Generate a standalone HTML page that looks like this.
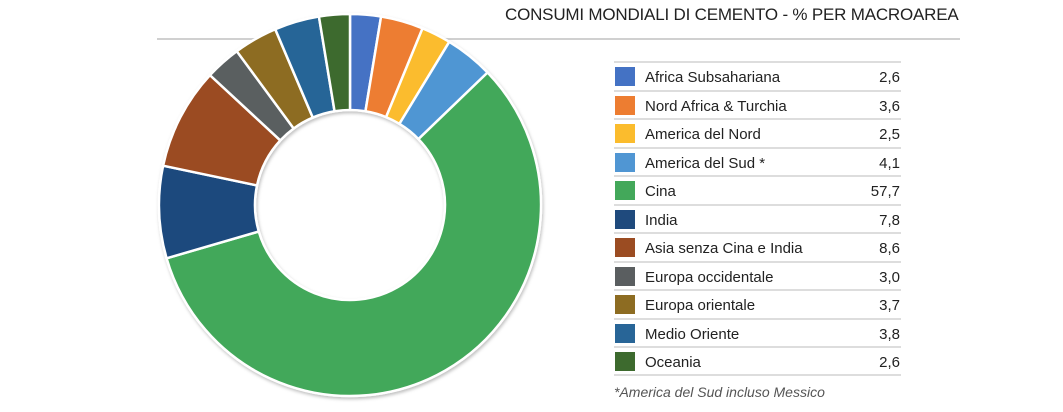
<!DOCTYPE html>
<html><head><meta charset="utf-8"><style>
body{margin:0;width:1063px;height:412px;background:#fff;overflow:hidden;position:relative;font-family:"Liberation Sans",sans-serif;color:#222}
.t{position:absolute;left:505px;top:5px;font-size:17px;letter-spacing:-0.2px;color:#222}
.hl{position:absolute;left:157px;top:38px;width:803px;height:2px;background:#d0d0d0}
.row{position:absolute;left:614px;width:287px;height:28px;border-top:2px solid #ddd;box-sizing:border-box}
.sw{position:absolute;left:1px;top:4px;width:20px;height:19px}
.lb{position:absolute;left:31px;top:6px;font-size:15px}
.v{position:absolute;right:1px;top:6px;font-size:15px}
.last{position:absolute;left:614px;top:374px;width:287px;height:2px;background:#ddd}
.fn{position:absolute;left:614px;top:384px;font-size:14px;font-style:italic;color:#555}
</style></head><body>
<div class="t">CONSUMI MONDIALI DI CEMENTO - % PER MACROAREA</div>
<div class="hl"></div>
<svg id="s" width="1063" height="412" style="position:absolute;left:0;top:0">
<defs><filter id="sh" x="-10%" y="-10%" width="120%" height="120%"><feDropShadow dx="1" dy="2" stdDeviation="1.5" flood-color="#000" flood-opacity="0.25"/></filter></defs>
<g id="g" filter="url(#sh)"></g></svg>
<div id="leg"></div>
<div class="last"></div>
<div class="fn">*America del Sud incluso Messico</div>
<script>
var d=[["Africa Subsahariana",2.6,"#4472c4"],["Nord Africa &amp; Turchia",3.6,"#ed7d31"],["America del Nord",2.5,"#fbbc2d"],["America del Sud *",4.1,"#5096d3"],["Cina",57.7,"#43a85a"],["India",7.8,"#1f4a7d"],["Asia senza Cina e India",8.6,"#9b4c22"],["Europa occidentale",3.0,"#5a5e60"],["Europa orientale",3.7,"#8d6c22"],["Medio Oriente",3.8,"#286597"],["Oceania",2.6,"#3d6a2e"]];
var cx=350,cy=205,R=191,r=95,a=0,h="",L="";
function p(ang,rad){return [cx+rad*Math.sin(ang),cy-rad*Math.cos(ang)];}
d.forEach(function(e,i){
var a0=a/100*2*Math.PI;a+=e[1];var a1=a/100*2*Math.PI;var lg=(a1-a0)>Math.PI?1:0;
var A=p(a0,R),B=p(a1,R),C=p(a1,r),D=p(a0,r);
h+='<path d="M'+A+' A'+R+','+R+' 0 '+lg+' 1 '+B+' L'+C+' A'+r+','+r+' 0 '+lg+' 0 '+D+'Z" fill="'+e[2]+'" stroke="#fff" stroke-width="2.5" stroke-linejoin="round"/>';
L+='<div class="row" style="top:'+(61+i*28.5)+'px"><div class="sw" style="background:'+e[2]+'"></div><div class="lb">'+e[0]+'</div><div class="v">'+e[1].toFixed(1).replace(".",",")+'</div></div>';
});
document.getElementById("g").innerHTML=h;
document.getElementById("leg").innerHTML=L;
</script>
</body></html>
